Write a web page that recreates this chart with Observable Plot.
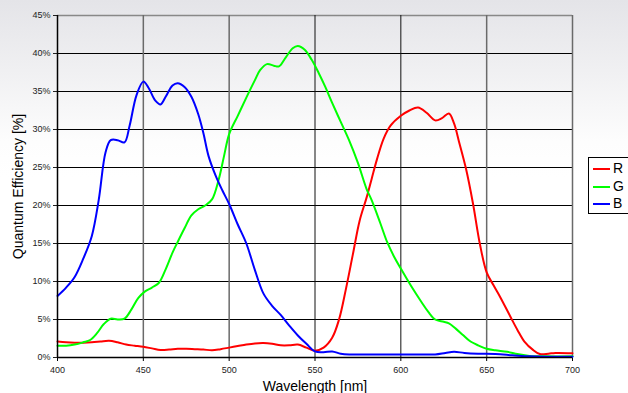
<!DOCTYPE html>
<html>
<head>
<meta charset="utf-8">
<script src="https://cdn.jsdelivr.net/npm/d3@7"></script>
<script src="https://cdn.jsdelivr.net/npm/@observablehq/plot@0.6"></script>
<style>
  html, body { margin: 0; padding: 0; }
  body {
    width: 628px; height: 393px; overflow: hidden; position: relative;
    background: linear-gradient(to bottom, #e4e4e8 0%, #f0f0f2 18%, #fdfdfd 36%, #ffffff 45%);
    font-family: "Liberation Sans", Arial, sans-serif;
  }
  #chart svg { display: block; background: transparent; }
  #legend {
    position: absolute; left: 588px; top: 157px; width: 50px; height: 55px;
    border: 1px solid #000; background: #fff; font-size: 14px; color: #000;
  }
  #legend .row { position: absolute; left: 4px; height: 16px; line-height: 16px; }
  #legend .sw { position: absolute; left: 0; top: 8px; width: 17px; height: 0; border-top: 2px solid; }
  #legend .lab { position: absolute; left: 20px; top: 0; }
</style>
</head>
<body>
<div id="chart"></div>
<div id="legend"></div>
<script>
// Wavelengths (nm) and quantum efficiency (%) per channel
const blueWl = [400,405,410,415,420,424,428,431,435,439,442,446,450,453,457,460,463,467,470,474,478,482,485,488,492,496,500,505,510,515,520,525,530,535,540,545,550,555,560,565,570,580,590,600,610,620,626,631,637,645,655,665,675,685,700];
const blueQE = [8.1,9.2,10.6,13.0,16.0,20.7,27.0,28.6,28.6,28.3,30.5,34.5,36.3,35.5,33.8,33.3,34.3,35.8,36.1,35.6,34.3,32.0,29.5,26.5,24.0,22.0,20.2,17.5,15.0,11.5,8.4,6.8,5.6,4.2,2.9,1.8,0.8,0.7,0.8,0.5,0.4,0.4,0.4,0.4,0.4,0.4,0.6,0.75,0.6,0.5,0.45,0.3,0.15,0.1,0.1];

const greenWl = [400,405,410,415,419,423,427,431,435,439,443,447,451,455,459,463,467,470,474,478,482,486,490,494,497,500,505,510,515,518,522,526,529,533,537,540,544,548,552,556,560,565,570,575,580,583,588,592,596,600,606,612,616,620,625,628,632,636,640,645,650,655,662,668,675,685,700];
const greenQE = [1.55,1.55,1.7,2.0,2.3,3.2,4.4,5.1,5.0,5.1,6.3,7.8,8.7,9.2,9.8,11.6,13.8,15.2,17.0,18.7,19.5,20.0,20.8,23.5,26.5,29.4,31.8,34.2,36.5,37.8,38.6,38.4,38.3,39.5,40.7,41.0,40.5,39.2,37.5,35.6,33.5,31.0,28.5,25.6,22.2,20.7,17.7,15.2,13.3,11.7,9.4,7.3,6.0,5.0,4.7,4.5,3.8,3.0,2.2,1.6,1.15,0.95,0.75,0.45,0.2,0.15,0.15];

const redWl = [400,405,410,415,420,425,430,435,440,445,450,455,460,465,470,475,480,485,490,495,500,505,510,515,520,525,530,535,540,545,550,555,560,564,568,572,576,580,583,586,590,594,600,605,610,615,620,624,628,631,634,638,642,646,650,654,658,664,668,672,677,681,686,690,700];
const redQE = [2.1,2.0,1.95,1.95,2.0,2.1,2.2,2.0,1.7,1.55,1.4,1.2,1.0,1.05,1.15,1.15,1.1,1.05,0.95,1.1,1.3,1.5,1.7,1.85,1.9,1.8,1.6,1.6,1.7,1.3,0.9,1.3,2.6,5.0,9.0,13.5,18.0,21.0,23.5,26.0,28.8,30.5,31.8,32.5,32.9,32.2,31.2,31.5,32.1,30.8,28.3,24.8,20.3,15.0,11.2,9.5,7.9,5.3,3.6,2.1,1.0,0.45,0.5,0.6,0.55];

const seriesNames = ["R", "G", "B"];
const seriesColors = ["#ff0000", "#00ff00", "#0000ff"];
const xTicks = [400, 450, 500, 550, 600, 650, 700];
const yTicks = [0, 5, 10, 15, 20, 25, 30, 35, 40, 45];
const xLabel = "Wavelength [nm]";
const yLabel = "Quantum Efficiency [%]";

const toRows = (wl, qe, name) => wl.map((w, i) => ({wl: w, qe: qe[i], ch: name}));
const rows = [
  ...toRows(redWl, redQE, "R"),
  ...toRows(greenWl, greenQE, "G"),
  ...toRows(blueWl, blueQE, "B")
];

const font = "'Liberation Sans', Arial, sans-serif";

const chart = Plot.plot({
  width: 628,
  height: 393,
  marginLeft: 57,
  marginRight: 56,
  marginTop: 15,
  marginBottom: 36,
  style: {fontFamily: font, background: "transparent", overflow: "visible"},
  x: {domain: [400, 700], ticks: xTicks, tickSize: 4, tickPadding: 6, label: null},
  y: {domain: [0, 45], ticks: yTicks, tickSize: 4, tickPadding: 3, label: null, tickFormat: d => d + "%"},
  color: {domain: seriesNames, range: seriesColors},
  marks: [
    Plot.ruleY(yTicks.filter(d => d > 0 && d < 45), {stroke: "#000", strokeWidth: 1, strokeOpacity: 1}),
    Plot.ruleY([45], {stroke: "#888", strokeWidth: 1.5}),
    Plot.ruleX(xTicks.filter(d => d > 400), {stroke: d => (d === 550 || d === 600) ? "#111" : "#6a6a6a", strokeWidth: d => (d === 550 || d === 600) ? 1 : 1.5}),
    Plot.axisX({ticks: xTicks, tickSize: 4, tickPadding: 5, fontSize: 9, color: "#222", stroke: "#000", label: null}),
    Plot.axisY({ticks: yTicks, tickSize: 4, tickPadding: 3, fontSize: 9, color: "#222", tickFormat: d => d + "%", label: null}),
    Plot.line(rows, {x: "wl", y: "qe", z: "ch", stroke: "ch", strokeWidth: 2, curve: "catmull-rom"}),
    Plot.ruleX([400], {stroke: "#000", strokeWidth: 1.5}),
    Plot.ruleY([0], {stroke: "#000", strokeWidth: 1.5}),
    Plot.text([yLabel], {frameAnchor: "left", dx: -39, rotate: -90, fontSize: 14, fill: "#000", textAnchor: "middle"}),
    Plot.text([xLabel], {frameAnchor: "bottom", dy: 29, fontSize: 14, fill: "#000", lineAnchor: "middle"})
  ]
});
document.getElementById("chart").appendChild(chart);

// Legend
const legend = document.getElementById("legend");
seriesNames.forEach((n, i) => {
  const row = document.createElement("div");
  row.className = "row";
  row.style.top = (2 + i * 17.5) + "px";
  row.innerHTML = `<span class="sw" style="border-color:${seriesColors[i]}"></span><span class="lab">${n}</span>`;
  legend.appendChild(row);
});
</script>
</body>
</html>
